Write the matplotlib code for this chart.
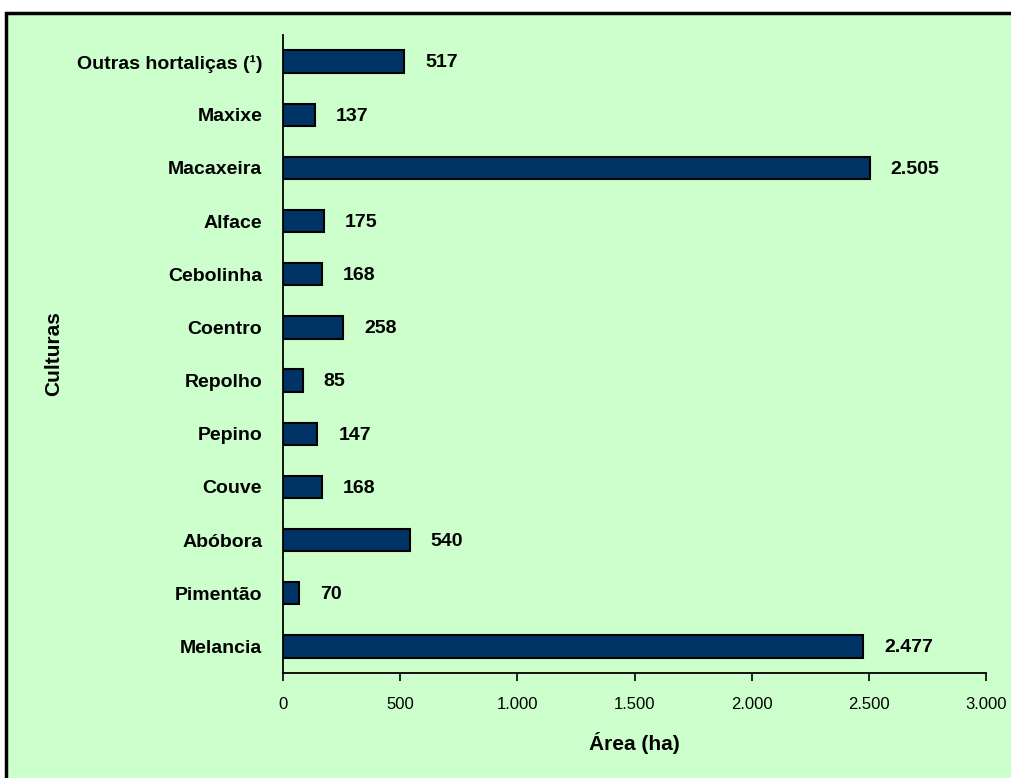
import matplotlib
matplotlib.use("Agg")
import matplotlib.pyplot as plt
from matplotlib.patches import Rectangle
from matplotlib.ticker import FuncFormatter

plt.rcParams['font.family'] = ['Liberation Sans Narrow', 'Liberation Sans', 'DejaVu Sans']

# dados (área em ha), de baixo para cima
culturas = ['Melancia', 'Pimentão', 'Abóbora', 'Couve', 'Pepino', 'Repolho',
            'Coentro', 'Cebolinha', 'Alface', 'Macaxeira', 'Maxixe',
            'Outras hortaliças (¹)']
area = [2477, 70, 540, 168, 147, 85, 258, 168, 175, 2505, 137, 517]
x_ticks = [0, 500, 1000, 1500, 2000, 2500, 3000]

W, H = 1011, 778
fig = plt.figure(figsize=(W / 100, H / 100), dpi=100)
fig.patch.set_facecolor('white')

# fundo verde com moldura preta (cortada à direita e embaixo)
fig.patches.append(Rectangle((5.5 / W, -0.05), 1.1, (H - 13 + 0.05 * H) / H,
                             transform=fig.transFigure, facecolor='#CCFFCC',
                             edgecolor='black', linewidth=2.5, zorder=-10))

ax = fig.add_axes([283 / W, 1 - 673 / H, (986 - 283) / W, (673 - 35) / H])
ax.set_facecolor('none')
ax.set_zorder(5)

y = range(len(culturas))
ax.barh(y, area, height=0.42, color='#003366', edgecolor='black', linewidth=1.5, zorder=3)

for yi, v in zip(y, area):
    ax.annotate(f'{v:,}'.replace(',', '.'), xy=(v, yi), xytext=(15, -1),
                textcoords='offset points', va='center', ha='left',
                fontsize=14, fontweight='bold')

ax.set_xlim(0, 3000)
ax.set_ylim(-0.5, len(culturas) - 0.5)
ax.set_xticks(x_ticks)
ax.xaxis.set_major_formatter(FuncFormatter(lambda v, p: f'{int(v):,}'.replace(',', '.')))
ax.set_yticks(list(y))
ax.set_yticklabels(culturas, fontsize=14, fontweight='bold')

ax.tick_params(axis='x', direction='out', length=6, width=1.2, pad=11, labelsize=12)
ax.tick_params(axis='y', length=0, pad=15)

for s in ['top', 'right']:
    ax.spines[s].set_visible(False)
for s in ['left', 'bottom']:
    ax.spines[s].set_linewidth(1.3)

ax.set_xlabel('Área (ha)', fontsize=15, fontweight='bold')
ax.xaxis.set_label_coords(0.5, -0.093)
ax.set_ylabel('Culturas', fontsize=15, fontweight='bold')
ax.yaxis.set_label_coords(-0.313, 0.5)

fig.savefig('out.png', dpi=100)
